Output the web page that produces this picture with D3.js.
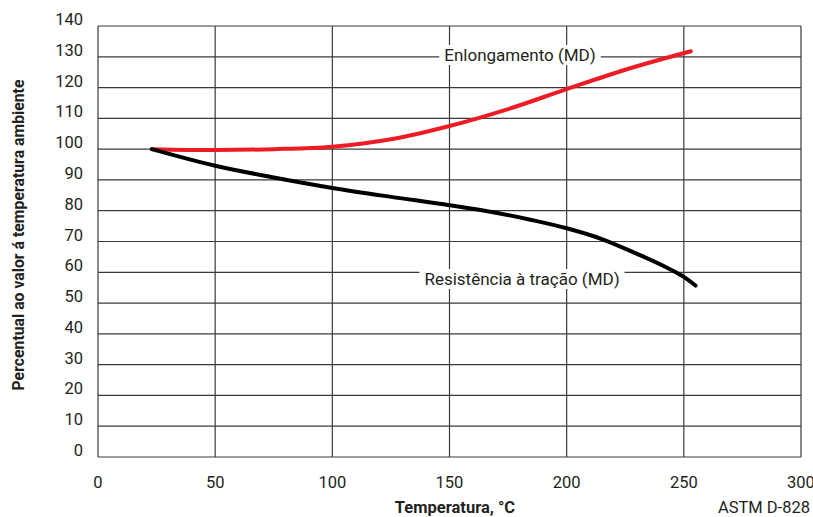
<!DOCTYPE html>
<html>
<head>
<meta charset="utf-8">
<script src="https://cdn.jsdelivr.net/npm/d3@7"></script>
<style>
  body { margin: 0; background: #fff; }
  text { font-family: "Liberation Sans Narrow", "Roboto", "Liberation Sans", sans-serif; fill: #231f20; }
</style>
</head>
<body>
<div id="chart"></div>
<script>
// Données
const xTicks = [0, 50, 100, 150, 200, 250, 300];
const yTicks = [0, 10, 20, 30, 40, 50, 60, 70, 80, 90, 100, 110, 120, 130, 140];

const elongTemp = [23, 50, 75, 100, 125, 150, 175, 200, 225, 253];
const elongVal  = [100, 99.7, 100, 100.8, 103.2, 107.5, 113, 119.5, 125.8, 131.8];

const tensileTemp = [23, 50, 75, 100, 125, 150, 165, 185, 200, 215, 230, 242, 250, 255];
const tensileVal  = [100, 94.6, 90.8, 87.4, 84.5, 81.8, 80, 77, 74.3, 70.8, 66, 61.8, 58.5, 55.7];

const width = 813, height = 517;
const margin = { left: 98, right: 12, top: 26, bottom: 60 };

const svg = d3.select("#chart")
    .append("svg")
    .attr("width", width)
    .attr("height", height);

const x = d3.scaleLinear().domain([0, 300]).range([margin.left, width - margin.right]);
const y = d3.scaleLinear().domain([0, 140]).range([height - margin.bottom, margin.top]);

// Grille
svg.append("g")
    .selectAll("line")
    .data(yTicks)
    .enter()
    .append("line")
    .attr("x1", x(0)).attr("x2", x(300))
    .attr("y1", d => y(d)).attr("y2", d => y(d))
    .attr("stroke", "#3a3a3a")
    .attr("stroke-width", 1.2);

svg.append("g")
    .selectAll("line")
    .data(xTicks)
    .enter()
    .append("line")
    .attr("x1", d => x(d)).attr("x2", d => x(d))
    .attr("y1", y(0)).attr("y2", y(140))
    .attr("stroke", "#3a3a3a")
    .attr("stroke-width", 1.2);

// Etiquettes des axes
svg.append("g")
    .selectAll("text")
    .data(yTicks)
    .enter()
    .append("text")
    .attr("x", 83)
    .attr("y", d => y(d) - 1)
    .attr("text-anchor", "end")
    .attr("font-size", 16.5)
    .text(d => d);

svg.append("g")
    .selectAll("text")
    .data(xTicks)
    .enter()
    .append("text")
    .attr("x", d => x(d))
    .attr("y", 488)
    .attr("text-anchor", "middle")
    .attr("font-size", 16.5)
    .text(d => d);

svg.append("text")
    .attr("transform", "translate(24,235) rotate(-90)")
    .attr("text-anchor", "middle")
    .attr("font-size", 15.8)
    .attr("font-weight", "bold")
    .text("Percentual ao valor á temperatura ambiente");

svg.append("text")
    .attr("x", 455)
    .attr("y", 513)
    .attr("text-anchor", "middle")
    .attr("font-size", 16.5)
    .attr("font-weight", "bold")
    .text("Temperatura, °C");

svg.append("text")
    .attr("x", 810)
    .attr("y", 513)
    .attr("text-anchor", "end")
    .attr("font-size", 16.5)
    .text("ASTM D-828");

// Courbes
const line = d3.line()
    .x(d => x(d[0]))
    .y(d => y(d[1]))
    .curve(d3.curveMonotoneX);

svg.append("path")
    .datum(elongTemp.map((t, i) => [t, elongVal[i]]))
    .attr("d", line)
    .attr("fill", "none")
    .attr("stroke", "#ed1c24")
    .attr("stroke-width", 4)
    .attr("stroke-linecap", "round");

svg.append("path")
    .datum(tensileTemp.map((t, i) => [t, tensileVal[i]]))
    .attr("d", line)
    .attr("fill", "none")
    .attr("stroke", "#000")
    .attr("stroke-width", 4)
    .attr("stroke-linecap", "round");

// Légendes des courbes, avec fond blanc
function curveLabel(label, cx, cy) {
    const g = svg.append("g");
    const t = g.append("text")
        .attr("x", cx)
        .attr("y", cy)
        .attr("text-anchor", "middle")
        .attr("font-size", 17)
        .text(label);
    const b = t.node().getBBox();
    g.insert("rect", "text")
        .attr("x", b.x - 5).attr("y", b.y)
        .attr("width", b.width + 10).attr("height", b.height)
        .attr("fill", "#fff");
}
curveLabel("Enlongamento (MD)", 520, 61);
curveLabel("Resistência à tração (MD)", 522, 285);
</script>
</body>
</html>
